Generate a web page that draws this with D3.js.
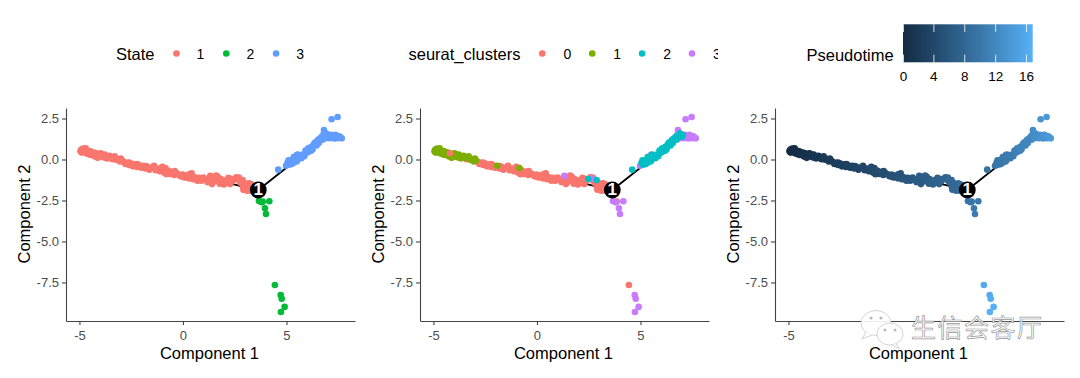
<!DOCTYPE html>
<html><head><meta charset="utf-8">
<script src="https://cdn.jsdelivr.net/npm/d3@7/dist/d3.min.js"></script>
<style>html,body{margin:0;padding:0;background:#fff}svg{display:block}text{font-family:"Liberation Sans",Arial,sans-serif}</style>
</head><body><svg id="c" width="1080" height="378"></svg>
<script>
// Left trunk (State 1)
const trunkX=[-4.95,-4.92,-4.9,-4.88,-4.85,-4.82,-4.78,-4.75,-4.72,-4.68,-4.65,-4.6,-4.55,-4.5,-4.45,-4.4,-4.32,-4.25,-4.2,-4.12,-4.08,-4.02,-3.95,-3.9,-3.85,-3.78,-3.7,-3.62,-3.55,-3.48,-3.4,-3.3,-3.22,-3.12,-3.05,-2.95,-2.85,-2.78,-2.7,-2.6,-2.5,-2.42,-2.32,-2.22,-2.12,-2.02,-1.92,-1.82,-1.72,-1.62,-1.52,-1.42,-1.32,-1.22,-1.12,-1.02,-0.92,-0.85,-0.72,-0.62,-0.52,-0.42,-0.32,-0.22,-0.12,-0.02,0.08,0.18,0.28,0.38,0.42,0.48,0.58,0.68,0.78,0.88,0.98,1.08,1.18,1.28,1.32,1.38,1.48,1.58,1.68,1.78,1.82,1.88,1.98,2.08,2.18,2.28,2.38,2.48,2.58,2.64,2.68,2.78,2.88,2.92,2.96,3.05,3.18,3.3,3.4,
 -4.7,-4.5,-4.3,-4.0,-3.7,-3.3,-3.0,-2.6,-2.2,-1.8,-1.4,-1.0,-0.8,-0.4,0,0.3,0.7,1.0,1.4,1.6,2.2,2.35,2.7,3.0,3.1,3.2,3.35,3.3,2.9,3.1];
const trunkY=[0.5,0.58,0.42,0.62,0.48,0.66,0.55,0.42,0.62,0.5,0.36,0.45,0.32,0.4,0.28,0.44,0.3,0.18,0.38,0.1,0.32,0.22,0.34,0.25,0.14,0.3,0.2,0.08,0.22,0.1,0.02,0.1,-0.02,0.03,-0.12,-0.05,-0.15,-0.27,-0.2,-0.33,-0.25,-0.42,-0.3,-0.46,-0.36,-0.5,-0.38,-0.55,-0.44,-0.62,-0.5,-0.44,-0.65,-0.55,-0.72,-0.58,-0.8,-0.52,-0.68,-0.88,-0.75,-0.95,-0.82,-0.9,-1.02,-0.92,-1.1,-0.98,-1.15,-1.02,-0.85,-1.2,-1.08,-1.25,-1.12,-1.3,-1.18,-1.22,-1.38,-1.22,-1.0,-1.42,-1.1,-1.32,-1.05,-1.48,-1.2,-1.35,-1.52,-1.25,-1.42,-1.5,-1.32,-1.19,-1.08,-1.15,-1.25,-1.42,-1.25,-1.85,-1.7,-1.6,-1.68,-1.52,-1.75,
 0.68,0.52,0.42,0.38,0.08,0.2,0.06,-0.18,-0.28,-0.4,-0.38,-0.45,-0.9,-0.7,-1.05,-0.9,-1.3,-1.1,-1.5,-0.98,-1.12,-1.2,-1.1,-1.45,-1.9,-1.45,-1.65,-1.9,-1.7,-1.75];
const trunkCluster=[1,1,1,1,1,1,1,1,1,1,1,1,1,1,1,1,1,1,0,1,1,1,0,1,1,1,1,0,1,1,0,1,1,0,1,1,0,0,0,0,0,0,0,0,0,0,1,0,0,0,0,0,0,0,0,0,0,1,0,0,0,0,0,0,0,0,0,0,0,0,0,0,0,0,0,0,0,0,0,0,3,0,0,0,0,0,0,0,0,0,0,0,0,2,0,3,0,0,2,0,0,0,0,0,0,
 1,1,1,1,1,1,1,0,0,0,0,0,0,0,0,0,0,0,0,0,0,0,0,0,0,0,0,0,0,0];
const trunkTime=[0.1,0.1,0.2,0.2,0.2,0.3,0.3,0.3,0.4,0.4,0.5,0.5,0.6,0.6,0.7,0.7,0.8,0.8,0.9,0.9,1,1,1.1,1.1,1.2,1.3,1.4,1.4,1.5,1.6,1.7,1.8,1.9,2,2.1,2.2,2.3,2.4,2.4,2.5,2.6,2.7,2.8,2.9,3,3.1,3.2,3.3,3.4,3.5,3.6,3.7,3.8,3.9,4,4.1,4.2,4.3,4.4,4.5,4.6,4.7,4.8,4.9,5,5.1,5.2,5.3,5.4,5.5,5.6,5.6,5.7,5.8,5.9,6,6.1,6.2,6.3,6.4,6.5,6.5,6.6,6.7,6.8,6.9,7,7,7.1,7.2,7.3,7.4,7.5,7.6,7.7,7.7,7.8,7.9,8,8.1,8.1,8.2,8.4,8.5,8.6,
 0.3,0.5,0.7,1,1.3,1.8,2.1,2.5,2.9,3.3,3.7,4.1,4.3,4.7,5.1,5.4,5.8,6.1,6.5,6.7,7.3,7.4,7.8,8.1,8.2,8.3,8.5,8.5,8,8.2];
// Upper-right branch (State 3)
const upperX=[4.6,4.98,5.05,5.12,5.2,5.25,5.32,5.4,5.46,5.5,5.58,5.65,5.72,5.8,5.86,5.92,6.0,6.05,6.12,6.2,6.26,6.32,6.38,6.45,6.5,6.56,6.62,6.7,6.74,6.78,6.81,6.86,6.9,6.95,7.0,7.05,7.1,7.14,7.18,7.22,7.28,7.32,7.36,7.4,7.44,7.5,7.55,7.6,7.67,7.18,7.47,
 5.1,5.35,5.55,5.75,6.0,6.2,6.35,6.55,5.25,5.5,6.9];
const upperY=[-0.62,-0.38,-0.2,-0.32,-0.1,-0.03,-0.22,0.02,-0.12,0.27,0.05,0.17,0.08,0.28,0.2,0.55,0.42,0.68,0.5,0.78,0.62,0.92,1.03,0.85,1.15,1.0,1.28,1.39,1.2,1.5,1.8,1.45,1.3,1.55,1.38,1.48,1.3,1.5,1.43,1.32,1.42,1.28,1.5,1.35,1.45,1.3,1.42,1.35,1.29,2.45,2.59,
 -0.05,0.15,0.3,0.28,0.45,0.55,0.85,1.22,-0.28,-0.1,1.6];
const upperCluster=[2,3,2,2,3,2,2,2,2,3,2,3,2,3,2,2,2,2,2,2,2,2,2,2,2,2,2,2,2,3,3,2,3,2,2,2,3,3,3,3,3,3,3,3,3,3,3,3,3,3,3,
 2,2,2,2,2,2,2,2,2,2,2];
const upperTime=[9.2,9.7,9.8,9.9,10,10.1,10.1,10.2,10.3,10.4,10.5,10.6,10.7,10.8,10.9,11,11.1,11.2,11.3,11.4,11.5,11.6,11.7,11.8,11.9,12,12.1,12.2,12.3,12.4,12.6,12.5,12.6,12.7,12.8,12.9,13,13.1,13.1,13.2,13.3,13.4,13.4,13.5,13.6,13.7,13.8,13.9,14,13.6,13.9,
 9.9,10.2,10.5,10.7,11.1,11.4,11.6,11.9,10,10.3,12.6];
// Lower branch (State 2)
const lowerX=[3.67,3.8,3.85,4.17,3.96,4.01,4.44,4.72,4.77,4.91,4.73];
const lowerY=[-2.53,-2.61,-2.57,-2.55,-2.98,-3.32,-7.65,-8.26,-8.49,-8.99,-9.3];
const lowerCluster=[3,3,0,3,3,3,0,3,3,3,3];
const lowerTime=[9.6,9.8,9.8,10,10.3,10.6,15.9,16.2,16.3,16.6,16.8];
// Tree backbone and branch node
const lineX=[-4.9,-2.4,-0.8,0.8,2.4,3.64,6.38,6.7];
const lineY=[0.5,-0.3,-0.75,-1.2,-1.5,-1.86,0.88,1.15];
const rootX=[3.64],rootY=[-1.86],rootLabel=["1"];
// Axes
const xTicks=[-5,0,5],xLabels=["-5","0","5"];
const yTicks=[2.5,0,-2.5,-5,-7.5],yLabels=["2.5","0.0","-2.5","-5.0","-7.5"];
// Legends
const stateLabels=["1","2","3"],stateColors=["#F8766D","#00BA38","#619CFF"];
const clusterLabels=["0","1","2","3"],clusterColors=["#F8766D","#7CAE00","#00BFC4","#C77CFF"];
const timeTicks=[0,4,8,12,16],timeLabels=["0","4","8","12","16"],timeDomain=[0,16.8],timeColors=["#132B43","#56B1F7"];
const watermark="生信会客厅";

const trunk=trunkX.map((x,i)=>({x,y:trunkY[i],state:0,cluster:trunkCluster[i],t:trunkTime[i]}));
const upper=upperX.map((x,i)=>({x,y:upperY[i],state:2,cluster:upperCluster[i],t:upperTime[i]}));
const lower=lowerX.map((x,i)=>({x,y:lowerY[i],state:1,cluster:lowerCluster[i],t:lowerTime[i]}));
const cells=[...trunk,...upper,...lower];
const timeColor=d3.scaleLinear().domain(timeDomain).range(timeColors).interpolate(d3.interpolateLab);

const svg=d3.select("#c");
const T=(g,x,y,s,size,anchor,fill)=>g.append("text").attr("x",x).attr("y",y).text(s).attr("font-size",size)
  .attr("text-anchor",anchor||"start").attr("dominant-baseline","central").attr("fill",fill||"#000");

function panel(left,color,xt,xl,ord){
  const g=svg.append("g");
  const x=d3.scaleLinear().domain([-5.65,8.31]).range([left,left+289]);
  const y=d3.scaleLinear().domain([3.14,-9.85]).range([108,321]);
  const ax=g.append("g").attr("transform","translate(0,321)").call(d3.axisBottom(x).tickValues(xt).tickSize(4).tickSizeOuter(0).tickFormat((d,i)=>xl[i]));
  const ay=g.append("g").attr("transform",`translate(${left},0)`).call(d3.axisLeft(y).tickValues(yTicks).tickSize(4).tickSizeOuter(0).tickFormat((d,i)=>yLabels[i]));
  [ax,ay].forEach(a=>{a.selectAll("path,line").attr("stroke","#444").attr("stroke-width",1.1);
    a.selectAll("text").attr("font-size",13).attr("fill","#4D4D4D").attr("font-family",'"Liberation Sans",Arial,sans-serif');});
  ax.selectAll("text").attr("dy","0.95em");
  T(g,left+143.5,353,"Component 1",16.5,"middle");
  g.append("text").attr("transform",`translate(${left-42},214) rotate(-90)`).attr("text-anchor","middle").attr("dominant-baseline","central").attr("font-size",16.5).text("Component 2");
  g.append("path").datum(lineX.map((v,i)=>[v,lineY[i]])).attr("fill","none").attr("stroke","#000").attr("stroke-width",1.9)
    .attr("d",d3.line().x(d=>x(d[0])).y(d=>y(d[1])));
  g.selectAll("circle.p").data(ord).join("circle").attr("class","p").attr("cx",d=>x(d.x)).attr("cy",d=>y(d.y)).attr("r",3.3).attr("fill",color);
  g.append("circle").attr("cx",x(rootX[0])).attr("cy",y(rootY[0])).attr("r",8.4).attr("fill","#000");
  T(g,x(rootX[0]),y(rootY[0]),rootLabel[0],17,"middle","#fff").attr("font-weight","bold");
}
// Cluster panel: overlap order as seen in the reference
const clusterOrder=[...cells.filter(d=>d.cluster===0&&d.x>=-4),...cells.filter(d=>d.cluster===1),...cells.filter(d=>d.cluster===3),...cells.filter(d=>d.cluster===2),...cells.filter(d=>d.cluster===0&&d.x<-4)];
panel(66,d=>stateColors[d.state],xTicks,xLabels,cells);
panel(420,d=>clusterColors[d.cluster],xTicks,xLabels,clusterOrder);
// Only the -5 tick is legible in the third panel: the watermark covers the others.
panel(775,d=>timeColor(d.t),[xTicks[0]],[xLabels[0]],cells);

// Legend: State
const l=svg.append("g");
T(l,116,54,"State",16.5);
stateLabels.forEach((s,i)=>{const px=176.5+i*49.8;
  l.append("circle").attr("cx",px).attr("cy",53.5).attr("r",3.3).attr("fill",stateColors[i]);
  T(l,px+24,54,s,14,"middle");});
// Legend: clusters (clipped on the right, as in the reference)
svg.append("clipPath").attr("id","cl").append("rect").attr("x",400).attr("y",30).attr("width",318).attr("height",50);
const l2=svg.append("g").attr("clip-path","url(#cl)");
T(l2,408.5,54,"seurat_clusters",16.5);
clusterLabels.forEach((s,i)=>{const px=542.3+i*49.9;
  l2.append("circle").attr("cx",px).attr("cy",53.5).attr("r",3.3).attr("fill",clusterColors[i]);
  T(l2,px+25,54,s,14,"middle");});
// Legend: colourbar
const defs=svg.append("defs"),gr=defs.append("linearGradient").attr("id","tg");
d3.range(0,21).forEach(i=>gr.append("stop").attr("offset",(i*5)+"%").attr("stop-color",timeColor(timeDomain[1]*i/20)));
const l3=svg.append("g");
const cb=d3.scaleLinear().domain(timeDomain).range([903,1032.7]);
l3.append("rect").attr("x",cb.range()[0]).attr("y",24.3).attr("width",cb.range()[1]-cb.range()[0]).attr("height",38).attr("fill","url(#tg)");
timeTicks.forEach((t,i)=>{const px=cb(t)+(i===0?0.5:0);
  l3.append("line").attr("x1",px).attr("x2",px).attr("y1",24.3).attr("y2",32).attr("stroke","#fff").attr("stroke-opacity",.8);
  l3.append("line").attr("x1",px).attr("x2",px).attr("y1",54.6).attr("y2",62.3).attr("stroke","#fff").attr("stroke-opacity",.8);
  T(l3,px,76.5,timeLabels[i],13.5,"middle");});
T(l3,806.5,54.5,"Pseudotime",16.5);

// Watermark
const w=svg.append("g");
const bubble=(cx,cy,rx,ry)=>{
  w.append("ellipse").attr("cx",cx).attr("cy",cy).attr("rx",rx).attr("ry",ry).attr("fill","#fff").attr("fill-opacity",.9).attr("stroke","#d4d4d4").attr("stroke-width",1);
};
bubble(876,323,15,12.5);
w.append("path").attr("d","M866 332 L862 339 L872 335").attr("fill","#fff").attr("stroke","#d4d4d4");
[871,881].forEach(px=>w.append("circle").attr("cx",px).attr("cy",318).attr("r",1.6).attr("fill","#bbb"));
bubble(890,334,13,11);
w.append("path").attr("d","M896 344 L900 349 L892 345").attr("fill","#fff").attr("stroke","#d4d4d4");
[885,895].forEach(px=>w.append("circle").attr("cx",px).attr("cy",330).attr("r",1.5).attr("fill","#bbb"));
w.append("text").attr("x",911).attr("y",325.5).attr("dominant-baseline","central").attr("font-size",25).attr("letter-spacing",1.5)
 .style("font-family",'"Noto Sans CJK SC"').attr("fill","#fff").attr("fill-opacity",.8).attr("stroke","#9a9a9a").attr("stroke-width",.7).text(watermark);
</script></body></html>
